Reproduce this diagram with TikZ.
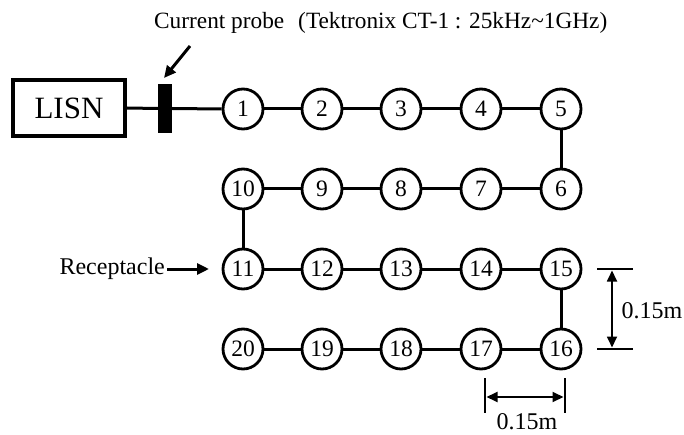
\documentclass[tikz,border=0pt]{standalone}
\usepackage{fontspec}
\setmainfont{Liberation Serif}
\usetikzlibrary{arrows.meta}
\begin{document}
\begin{tikzpicture}[x=1pt,y=-1pt,
  pt/.style={circle,draw,line width=2.8pt,minimum size=40pt,inner sep=0pt,
    font=\fontsize{23.5}{23.5}\selectfont},
  wire/.style={line width=3pt},
  lbl/.style={font=\fontsize{24}{26}\selectfont,inner sep=0pt},
  dim/.style={line width=1.5pt},
  dimarrow/.style={line width=1.8pt,{Triangle[length=11pt,width=10pt]}-{Triangle[length=11pt,width=10pt]}},
  callout/.style={line width=3pt,-{Triangle[length=12pt,width=11pt]}}]
\useasboundingbox (0,0) rectangle (684,435);

% title
\node[lbl,font=\fontsize{23.3}{26}\selectfont,anchor=base west] (title) at (154,29) {Current probe\hspace{0.35em} (Tektronix CT-1 : 25kHz\textasciitilde 1GHz)};

% LISN and probe
\node[draw,line width=4pt,minimum width=112pt,minimum height=56pt,inner sep=0pt,
  font=\fontsize{31}{31}\selectfont] (lisn) at (69,108) {LISN};
\node[fill=black,minimum width=14pt,minimum height=49pt,inner sep=0pt] (probe) at (165,108.5) {};

% circles
\foreach \n/\x/\y in {1/243/109,2/322/109,3/401/109,4/481/109,5/561/109,
  10/243/189,9/322/189,8/401/189,7/481/189,6/561/189,
  11/243/269,12/322/269,13/401/269,14/481/269,15/561/269,
  20/243/349,19/322/349,18/401/349,17/481/349,16/561/349}
  \node[pt] (n\n) at (\x,\y) {\n};

% wiring
\draw[wire] (lisn.east) -- (probe.west);
\draw[wire] (probe.east) -- (n1.west);
\foreach \a/\b in {1/2,2/3,3/4,4/5,6/7,7/8,8/9,9/10,11/12,12/13,13/14,14/15,16/17,17/18,18/19,19/20}
  \draw[wire] (n\a) -- (n\b);
\draw[wire] (n5) -- (n6);
\draw[wire] (n10) -- (n11);
\draw[wire] (n15) -- (n16);

% probe callout
\coordinate (ptail) at (190,46);
\coordinate (phead) at (164,78);
\draw[callout] (ptail) -- (phead);

% receptacle
\node[lbl,anchor=east] (rec) at (165,269) {Receptacle};
\coordinate (rectip) at (209,269);
\draw[callout] (rec.east) ++(2,0) -- (rectip);

% vertical dimension
\coordinate (v1a) at (597,269); \coordinate (v1b) at (633,269);
\coordinate (v2a) at (597,349); \coordinate (v2b) at (633,349);
\draw[dim] (v1a) -- (v1b);
\draw[dim] (v2a) -- (v2b);
\coordinate (vt) at (612,270.5); \coordinate (vb) at (612,347.5);
\draw[dimarrow] (vt) -- (vb);
\node[lbl] (vlab) at (652,311) {0.15m};

% horizontal dimension
\coordinate (h1a) at (485,378); \coordinate (h1b) at (485,413);
\coordinate (h2a) at (565,378); \coordinate (h2b) at (565,413);
\draw[dim] (h1a) -- (h1b);
\draw[dim] (h2a) -- (h2b);
\coordinate (hl) at (486.5,397); \coordinate (hr) at (563.5,397);
\draw[dimarrow] (hl) -- (hr);
\node[lbl,anchor=base] (hlab) at (527,429) {0.15m};
\end{tikzpicture}
\end{document}
